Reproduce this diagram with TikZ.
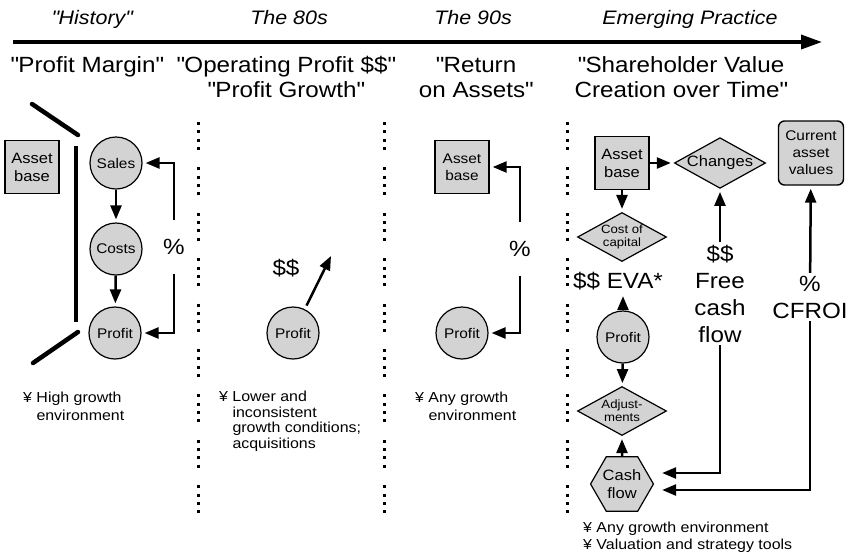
\documentclass[tikz,border=0pt]{standalone}
\usepackage{fontspec}
\setmainfont{Liberation Sans}[FakeStretch=1.1]
\usetikzlibrary{shapes.geometric,arrows.meta}
\definecolor{boxgray}{RGB}{211,211,211}

\begin{document}
\begin{tikzpicture}[x=1pt, y=-1pt,
  flow/.style={-{Triangle[length=14pt,width=11pt]}, line width=2.5pt, shorten >=3pt},
  block/.style={rectangle, draw, line width=1.4pt, fill=boxgray, minimum width=54pt, minimum height=53pt, inner sep=0pt, align=center, font=\fontsize{15}{18}\selectfont},
  ball/.style={circle, draw, line width=1.2pt, fill=boxgray, minimum size=52pt, inner sep=0pt, font=\fontsize{14}{16}\selectfont},
  decision/.style={diamond, draw, line width=1.2pt, fill=boxgray, aspect=1.8, minimum width=89pt, minimum height=49pt, inner sep=0pt, align=center},
  hexa/.style={regular polygon, regular polygon sides=6, draw, line width=1.2pt, fill=boxgray, minimum size=62pt, inner sep=0pt, align=center, font=\fontsize{15}{18}\selectfont},
  era/.style={font=\fontsize{19.5}{22}\selectfont\itshape, anchor=base, inner sep=0pt},
  heading/.style={font=\fontsize{22}{25}\selectfont, align=center, anchor=base, inner sep=0pt},
  bignum/.style={font=\fontsize{22}{26.7}\selectfont, align=center, inner sep=3pt},
  pct/.style={bignum, minimum height=53pt, inner sep=0pt},
  note/.style={font=\fontsize{14.5}{18}\selectfont, align=left, anchor=base west, inner sep=0pt},
  sep/.style={line width=3pt, dash pattern=on 3pt off 5.3pt on 3pt off 5.3pt on 3pt off 5.3pt on 3pt off 17.5pt}
]
\useasboundingbox (0,0) rectangle (857,558);

% time line
\coordinate (tstart) at (13,42);
\coordinate (tend) at (822,42);
\draw[-{Triangle[length=21pt,width=14pt]}, line width=3.5pt] (tstart) -- (tend);

\node[era] (hist) at (92,24) {\textquotedbl History\textquotedbl};
\node[era] (eighty) at (289,24) {The 80s};
\node[era] (ninety) at (473,24) {The 90s};
\node[era] (emerge) at (690,24) {Emerging Practice};

% headings (base = last line)
\node[heading] (tmargin) at (87,72) {\textquotedbl Profit Margin\textquotedbl};
\node[heading] (toper) at (286,97) {\textquotedbl Operating Profit \$\$\textquotedbl\\\textquotedbl Profit Growth\textquotedbl};
\node[heading] (treturn) at (476,97) {\textquotedbl Return\\on Assets\textquotedbl};
\node[heading] (tshare) at (681,97) {\textquotedbl Shareholder Value\\Creation over Time\textquotedbl};

% column separators
\foreach \sx in {198,384,567}
  \draw[sep] (\sx,122) -- (\sx,513);

% History
\node[block] (asset1) at (32,167) {Asset\\base};
\draw[line width=4.5pt, line cap=round] (32,104) -- (78,135);
\draw[line width=4.5pt] (76,146) -- (76,322);
\draw[line width=4.5pt, line cap=round] (78,332) -- (33,363);

\node[ball] (sales) at (116,163) {Sales};
\node[ball] (costs) at (116,249) {Costs};
\node[ball] (profit1) at (115,333) {Profit};
\node[pct] (pct1) at (174,247) {\%};

\draw[flow] (sales) -- (costs);
\draw[flow] (costs) -- (profit1);
\draw[flow] (pct1.north) |- (sales);
\draw[flow] (pct1.south) |- (profit1);

\node[note] (env1) at (23,420) {¥ High growth\\\phantom{¥ }environment};

% The 80s
\node[ball] (profit2) at (293,333) {Profit};
\node[bignum] (dollar2) at (286,268) {\$\$};
\coordinate (grow) at (331,256);
\draw[flow, shorten <=4pt, shorten >=0pt] (profit2) -- (grow);

\node[note, font=\fontsize{14.5}{15.5}\selectfont] (env2) at (219,448) {¥ Lower and\\\phantom{¥ }inconsistent\\\phantom{¥ }growth conditions;\\\phantom{¥ }acquisitions};

% The 90s
\node[block, font=\fontsize{14}{17}\selectfont] (asset3) at (462,167) {Asset\\base};
\node[ball] (profit3) at (462,333) {Profit};
\node[pct] (pct3) at (520,249) {\%};

\draw[flow] (pct3.north) |- (asset3);
\draw[flow] (pct3.south) |- (profit3);

\node[note] (env3) at (415,420) {¥ Any growth\\\phantom{¥ }environment};

% Emerging practice
\node[block] (asset4) at (622,163) {Asset\\base};
\node[decision, font=\fontsize{15}{18}\selectfont] (changes) at (720,163) {Changes};
\node[block, rounded corners=6pt, minimum width=65pt, minimum height=64pt, font=\fontsize{14}{17}\selectfont] (current) at (811,153) {Current\\asset\\values};
\node[decision, font=\fontsize{12}{13}\selectfont] (cost) at (622,237) {Cost of\\capital};
\node[bignum] (eva) at (618,281) {\$\$ EVA*};
\node[bignum, anchor=base] (free) at (720,342) {\$\$\\Free\\cash\\flow};
\node[bignum, anchor=base] (cfroi) at (810,318) {\%\\CFROI};
\node[ball] (profit4) at (623,337) {Profit};
\node[decision, font=\fontsize{12}{13}\selectfont] (adjust) at (622,411) {Adjust-\\ments};
\node[hexa] (cash) at (622,484) {Cash\\flow};

\draw[flow] (asset4) -- (changes);
\draw[flow] (asset4) -- (cost);
\draw[flow] (free) -- (changes);
\draw[flow] (cfroi) -- (current);
\draw[flow] (profit4) -- (profit4 |- eva.south);
\draw[flow] (profit4) -- (adjust);
\draw[flow] (cash) -- (adjust);
\draw[flow] (free) |- ([xshift=5pt,yshift=11pt]cash.east);
\draw[flow] (cfroi) |- ([xshift=5pt,yshift=-6pt]cash.east);

\node[note, font=\fontsize{14.5}{16.5}\selectfont] (env4) at (583,549) {¥ Any growth environment\\¥ Valuation and strategy tools};
\end{tikzpicture}
\end{document}
